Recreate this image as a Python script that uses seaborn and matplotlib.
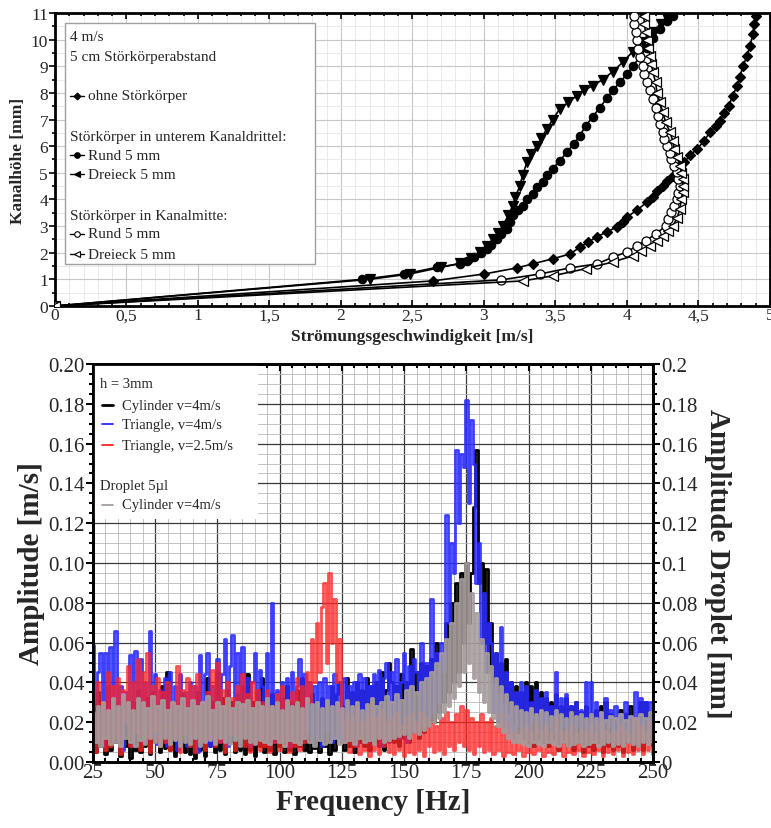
import numpy as np
import matplotlib
matplotlib.use("Agg")
import matplotlib.pyplot as plt
import seaborn as sns
from matplotlib.ticker import MultipleLocator, FuncFormatter
from matplotlib.patches import Rectangle
from matplotlib.lines import Line2D

# ---------------- top panel: velocity profiles ----------------
ohne_v = [0, 2.64, 3.0, 3.23, 3.34, 3.48, 3.6, 3.67, 3.73, 3.79, 3.86, 3.93, 3.97, 4.0, 4.07, 4.14,
          4.18, 4.21, 4.25, 4.28, 4.32, 4.35, 4.37, 4.4, 4.44, 4.49, 4.54, 4.58, 4.62, 4.65, 4.68,
          4.71, 4.74, 4.77, 4.79, 4.81, 4.84, 4.86, 4.88, 4.89, 4.9]
ohne_h = [0, 0.94, 1.2, 1.43, 1.58, 1.77, 1.95, 2.2, 2.4, 2.6, 2.78, 2.97, 3.15, 3.34, 3.6, 3.9,
          4.1, 4.32, 4.5, 4.7, 4.87, 5.04, 5.2, 5.4, 5.65, 5.9, 6.2, 6.53, 6.75, 6.96, 7.25,
          7.5, 7.9, 8.27, 8.6, 9.0, 9.4, 9.77, 10.2, 10.6, 10.9]

rund_unten_v = [0, 2.15, 2.44, 2.67, 2.83, 2.88, 2.93, 2.98, 3.02, 3.05, 3.09, 3.12, 3.16, 3.18, 3.2,
                3.24, 3.27, 3.3, 3.34, 3.37, 3.41, 3.44, 3.48, 3.53, 3.58, 3.63, 3.67, 3.71, 3.76,
                3.81, 3.86, 3.9, 3.95, 4.0, 4.04, 4.09, 4.14, 4.18, 4.23, 4.28, 4.32]
rund_unten_h = [0, 1.0, 1.2, 1.45, 1.58, 1.7, 1.83, 1.98, 2.14, 2.3, 2.52, 2.7, 2.9, 3.15, 3.4,
                3.6, 3.76, 4.0, 4.2, 4.45, 4.65, 4.9, 5.15, 5.45, 5.78, 6.1, 6.4, 6.75, 7.1,
                7.45, 7.8, 8.1, 8.4, 8.7, 9.0, 9.35, 9.7, 10.05, 10.4, 10.7, 10.9]

dreieck_unten_v = [0, 2.2, 2.48, 2.7, 2.83, 2.91, 2.97, 3.02, 3.06, 3.1, 3.13, 3.17, 3.2, 3.22, 3.25,
                   3.27, 3.3, 3.33, 3.37, 3.4, 3.44, 3.48, 3.53, 3.59, 3.65, 3.7, 3.76, 3.83, 3.9,
                   3.97, 4.04, 4.11, 4.18, 4.24, 4.28]
dreieck_unten_h = [0, 1.0, 1.2, 1.45, 1.6, 1.8, 2.03, 2.25, 2.5, 2.75, 3.0, 3.4, 3.76, 4.1, 4.5,
                   4.9, 5.4, 5.7, 6.0, 6.3, 6.65, 7.0, 7.4, 7.65, 7.9, 8.1, 8.27, 8.5, 8.8,
                   9.15, 9.55, 9.9, 10.3, 10.6, 10.8]

rund_mitte_v = [0, 3.12, 3.39, 3.6, 3.79, 3.9, 4.0, 4.07, 4.13, 4.2, 4.27, 4.29, 4.31, 4.33, 4.35,
                4.36, 4.37, 4.36, 4.35, 4.33, 4.31, 4.3, 4.28, 4.26, 4.25, 4.23, 4.22, 4.2, 4.18,
                4.16, 4.14, 4.12, 4.11, 4.09, 4.08, 4.07, 4.06, 4.05, 4.05]
rund_mitte_h = [0, 0.98, 1.2, 1.43, 1.58, 1.83, 2.03, 2.26, 2.45, 2.7, 3.0, 3.25, 3.52, 3.75, 4.0,
                4.25, 4.5, 4.77, 5.03, 5.27, 5.52, 5.75, 6.0, 6.27, 6.53, 6.85, 7.14, 7.45, 7.78,
                8.1, 8.4, 8.7, 9.0, 9.33, 9.66, 10.0, 10.3, 10.6, 10.9]

dreieck_mitte_v = [0, 3.27, 3.48, 3.71, 3.9, 4.04, 4.1, 4.16, 4.21, 4.25, 4.29, 4.32, 4.35, 4.37,
                   4.38, 4.39, 4.39, 4.39, 4.38, 4.37, 4.35, 4.33, 4.32, 4.3, 4.27, 4.25, 4.23,
                   4.21, 4.2, 4.18, 4.17, 4.16, 4.15, 4.14, 4.13, 4.12, 4.12]
dreieck_mitte_h = [0, 0.94, 1.13, 1.4, 1.65, 1.88, 2.07, 2.26, 2.45, 2.63, 2.8, 3.0, 3.3, 3.65,
                   4.0, 4.28, 4.5, 4.77, 5.0, 5.27, 5.6, 5.9, 6.2, 6.53, 6.9, 7.28, 7.65,
                   8.0, 8.4, 8.8, 9.1, 9.4, 9.7, 10.0, 10.3, 10.6, 10.9]

# ---------------- bottom panel: spectra (values in 1e-3 units, 1 Hz steps from 25 Hz) ----------------
f_start, f_end = 25, 250

cyl_4 = [30, 5, 35, 8, 25, 4, 38, 6, 30, 10,
         28, 3, 32, 8, 25, 2, 30, 6, 36, 5,
         28, 8, 32, 4, 35, 10, 26, 5, 38, 7,
         45, 6, 30, 3, 28, 8, 34, 5, 25, 4,
         30, 2, 35, 6, 28, 3, 42, 8, 30, 5,
         45, 6, 32, 4, 36, 10, 30, 5, 34, 6,
         38, 4, 44, 6, 30, 3, 36, 8, 42, 5,
         30, 6, 34, 4, 28, 8, 32, 5, 38, 6,
         30, 4, 36, 8, 42, 6, 30, 5, 34, 7,
         28, 5, 32, 8, 30, 4, 38, 6, 34, 40,
         28, 6, 42, 8, 35, 5, 40, 10, 36, 8,
         42, 6, 38, 10, 40, 8, 45, 6, 36, 50,
         40, 10, 38, 8, 44, 12, 40, 10, 57, 15,
         45, 12, 50, 15, 48, 18, 52, 20, 60, 25,
         55, 30, 70, 35, 80, 40, 90, 45, 95, 60,
         100, 70, 95, 128, 157, 90, 100, 60, 97, 45,
         70, 40, 55, 35, 50, 30, 52, 25, 40, 20,
         38, 15, 35, 12, 40, 10, 38, 8, 40, 12,
         35, 10, 32, 8, 30, 12, 34, 6, 28, 10,
         32, 8, 28, 6, 30, 10, 25, 5, 28, 8,
         24, 6, 26, 10, 28, 5, 30, 8, 24, 6,
         22, 8, 26, 5, 24, 10, 28, 6, 22, 8,
         30, 6, 30, 10, 25, 8]

tri_4 = [59, 10, 45, 55, 8, 55, 12, 58, 15, 66,
         12, 38, 6, 35, 20, 54, 8, 56, 15, 52,
         10, 40, 18, 66, 12, 44, 9, 36, 15, 42,
         8, 45, 20, 38, 6, 44, 14, 35, 8, 40,
         12, 38, 5, 54, 10, 44, 55, 8, 38, 15,
         52, 10, 44, 62, 8, 48, 64, 12, 55, 10,
         58, 20, 42, 8, 40, 55, 12, 46, 38, 10,
         55, 15, 80, 10, 36, 12, 40, 15, 42, 8,
         45, 12, 38, 52, 10, 44, 15, 40, 10, 38,
         12, 40, 8, 42, 15, 38, 10, 44, 12, 40,
         10, 42, 15, 38, 12, 40, 8, 44, 14, 42,
         10, 38, 15, 44, 12, 46, 8, 42, 50, 10,
         45, 15, 52, 12, 40, 55, 10, 48, 15, 52,
         45, 20, 60, 18, 50, 22, 82, 25, 55, 30,
         60, 45, 124, 70, 110, 95, 157, 120, 155, 148,
         182, 130, 172, 150, 90, 110, 60, 85, 45, 70,
         60, 25, 55, 20, 68, 18, 45, 15, 40, 12,
         35, 18, 40, 15, 38, 12, 30, 20, 36, 15,
         32, 12, 35, 18, 28, 15, 45, 12, 32, 18,
         34, 15, 28, 12, 30, 18, 26, 10, 40, 15,
         40, 12, 30, 15, 25, 12, 32, 18, 26, 10,
         28, 15, 24, 12, 30, 10, 22, 15, 35, 12,
         32, 15, 30, 10, 30, 18]

tri_25 = [35, 5, 40, 10, 30, 6, 45, 8, 38, 12,
          42, 4, 36, 20, 48, 8, 40, 15, 52, 6,
          45, 12, 55, 5, 38, 15, 42, 8, 35, 10,
          40, 6, 30, 12, 48, 5, 36, 14, 42, 8,
          38, 5, 44, 10, 30, 6, 35, 12, 46, 8,
          50, 10, 36, 5, 40, 14, 32, 6, 38, 12,
          44, 8, 34, 5, 40, 10, 36, 6, 30, 8,
          36, 5, 28, 10, 34, 6, 38, 8, 30, 5,
          35, 8, 42, 6, 38, 10, 45, 30, 62, 40,
          70, 45, 78, 90, 50, 95, 60, 82, 40, 62,
          20, 10, 25, 5, 22, 8, 28, 4, 20, 6,
          24, 3, 30, 6, 22, 4, 26, 8, 20, 5,
          22, 4, 25, 6, 18, 3, 22, 5, 24, 4,
          20, 6, 25, 3, 22, 8, 20, 5, 18, 6,
          22, 4, 25, 8, 20, 6, 24, 10, 28, 8,
          26, 6, 22, 4, 20, 8, 24, 5, 20, 6,
          22, 4, 18, 6, 24, 3, 20, 5, 16, 4,
          14, 6, 16, 3, 18, 5, 15, 4, 20, 6,
          16, 3, 18, 5, 14, 4, 22, 6, 16, 3,
          15, 5, 18, 4, 14, 6, 16, 3, 15, 5,
          18, 4, 14, 6, 20, 3, 16, 5, 14, 4,
          15, 6, 18, 3, 16, 5, 14, 4, 22, 6,
          18, 4, 15, 6, 20, 4]

droplet = [25, 10, 28, 8, 30, 12, 26, 9, 32, 10,
           28, 8, 34, 12, 30, 10, 26, 8, 32, 11,
           30, 9, 27, 12, 33, 10, 28, 8, 31, 12,
           26, 9, 30, 11, 28, 8, 32, 10, 27, 9,
           31, 12, 28, 8, 30, 10, 33, 11, 26, 9,
           30, 12, 28, 10, 32, 9, 27, 11, 30, 8,
           29, 12, 31, 10, 27, 9, 30, 11, 28, 10,
           32, 9, 28, 12, 30, 10, 26, 8, 31, 11,
           28, 10, 30, 9, 27, 12, 32, 10, 29, 8,
           30, 11, 27, 9, 31, 10, 28, 12, 30, 9,
           27, 10, 31, 11, 28, 9, 30, 12, 26, 10,
           29, 11, 32, 9, 28, 12, 30, 10, 33, 11,
           30, 12, 34, 13, 31, 14, 36, 12, 38, 15,
           35, 14, 40, 16, 42, 18, 45, 20, 50, 22,
           55, 25, 62, 28, 70, 32, 80, 38, 92, 45,
           100, 50, 85, 42, 75, 35, 62, 30, 55, 25,
           48, 22, 42, 18, 38, 15, 34, 12, 30, 10,
           28, 10, 26, 9, 25, 8, 27, 10, 24, 9,
           26, 8, 25, 10, 23, 9, 26, 8, 24, 10,
           22, 8, 25, 9, 23, 10, 24, 8, 22, 9,
           24, 10, 22, 8, 25, 9, 21, 10, 23, 8,
           22, 9, 24, 8, 21, 10, 23, 9, 22, 8,
           24, 10, 22, 9, 25, 10]

freq = np.arange(f_start, f_end + 1)

# ---------------- style ----------------
sns.set_style("whitegrid")
plt.rcParams['font.family'] = ['Liberation Serif', 'DejaVu Serif']

fig = plt.figure(figsize=(7.71, 8.29), dpi=100)
ax1 = fig.add_axes([0.0713, 0.6297, 0.9274, 0.3534])
ax2 = fig.add_axes([0.1206, 0.0796, 0.7264, 0.4801])

# ---- top panel ----
profiles = [
    (ohne_v, ohne_h, 'D', 'black', 5),
    (rund_unten_v, rund_unten_h, 'o', 'black', 6),
    (dreieck_unten_v, dreieck_unten_h, 'v', 'black', 6.5),
    (rund_mitte_v, rund_mitte_h, 'o', 'white', 6.5),
    (dreieck_mitte_v, dreieck_mitte_h, '<', 'white', 6.5),
]
for v, h, m, fc, ms in profiles:
    sns.lineplot(x=v, y=h, ax=ax1, sort=False, estimator=None, color='black', lw=1.2,
                 marker=m, markersize=ms, markerfacecolor=fc, markeredgecolor='black',
                 markeredgewidth=0.9, zorder=5)

ax1.set_xlim(0, 5)
ax1.set_ylim(0, 11)
ax1.xaxis.set_major_locator(MultipleLocator(0.5))
ax1.xaxis.set_minor_locator(MultipleLocator(0.1))
ax1.yaxis.set_major_locator(MultipleLocator(1))
ax1.yaxis.set_minor_locator(MultipleLocator(0.5))
ax1.xaxis.set_major_formatter(FuncFormatter(lambda x, p: f"{x:g}".replace('.', ',')))
ax1.grid(which='major', color='#c8c8c8', lw=0.8)
ax1.grid(which='minor', color='#e6e6e6', lw=0.6)
ax1.tick_params(which='both', direction='out', top=True, left=True, bottom=True,
                labelsize=12.5, width=1.2, color='black', pad=1)
ax1.tick_params(which='major', length=4)
ax1.tick_params(which='minor', length=2)
ax1.tick_params(axis='x', which='both', top=True, direction='in')
for s in ax1.spines.values():
    s.set_color('black')
    s.set_linewidth(2)
ax1.set_xlabel('Strömungsgeschwindigkeit [m/s]', fontsize=12.5, fontweight='bold', labelpad=3)
ax1.set_ylabel('Kanalhöhe [mm]', fontsize=12.5, fontweight='bold', labelpad=3)

# legend box (top)
ax1.add_patch(Rectangle((0.014, 0.143), 0.35, 0.823, transform=ax1.transAxes,
                        facecolor='white', edgecolor='#a0a0a0', lw=1.0, zorder=6))
top_font = 11
hx = 0.021
tx = 0.046
ax1.text(hx, 0.921, '4 m/s', transform=ax1.transAxes, fontsize=top_font, va='center', zorder=7)
ax1.text(hx, 0.853, '5 cm Störkörperabstand', transform=ax1.transAxes, fontsize=top_font,
         va='center', zorder=7)
ax1.text(hx, 0.58, 'Störkörper in unterem Kanaldrittel:', transform=ax1.transAxes,
         fontsize=top_font, va='center', zorder=7)
ax1.text(hx, 0.31, 'Störkörper in Kanalmitte:', transform=ax1.transAxes,
         fontsize=top_font, va='center', zorder=7)
top_items = [
    (0.717, 'ohne Störkörper', 'D', 'black', 3.5),
    (0.515, 'Rund 5 mm', 'o', 'black', 4),
    (0.45, 'Dreieck 5 mm', '<', 'black', 4),
    (0.246, 'Rund 5 mm', 'o', 'white', 4),
    (0.177, 'Dreieck 5 mm', '<', 'white', 4),
]
for yy, lab, m, fc, ms in top_items:
    ax1.add_line(Line2D([hx, tx - 0.006], [yy, yy], transform=ax1.transAxes, color='black',
                        lw=1.0, zorder=7))
    ax1.add_line(Line2D([(hx + tx - 0.006) / 2], [yy], transform=ax1.transAxes, color='black',
                        lw=0, marker=m, markersize=ms, markerfacecolor=fc,
                        markeredgecolor='black', markeredgewidth=0.8, zorder=8))
    ax1.text(tx, yy, lab, transform=ax1.transAxes, fontsize=top_font, va='center', zorder=7)

# ---- bottom panel ----
series = [
    (cyl_4, 'black', 1.0),
    (tri_4, '#2a2aff', 0.9),
    (tri_25, '#ff2424', 0.8),
]
for vals, col, a in series:
    sns.lineplot(x=freq, y=np.array(vals) / 1000.0, ax=ax2, sort=False, estimator=None,
                 color=col, lw=2.0, alpha=a, drawstyle='steps-mid', zorder=3)

ax2.set_xlim(25, 250)
ax2.set_ylim(0, 0.2)
ax2.xaxis.set_major_locator(MultipleLocator(25))
ax2.xaxis.set_minor_locator(MultipleLocator(5))
ax2.yaxis.set_major_locator(MultipleLocator(0.02))
ax2.yaxis.set_minor_locator(MultipleLocator(0.005))
ax2.yaxis.set_major_formatter(FuncFormatter(lambda v, p: f"{v:.2f}"))
ax2.grid(which='major', color='#3a3a3a', lw=0.9)
ax2.grid(which='minor', color='#b8b8b8', lw=0.6)
ax2.tick_params(which='both', direction='out', labelsize=15, width=1.5, color='black', pad=1)
ax2.tick_params(which='major', length=5)
ax2.tick_params(which='minor', length=3, left=True, bottom=True, top=True)
ax2.tick_params(axis='x', which='both', top=True, direction='in')
for s in ax2.spines.values():
    s.set_color('black')
    s.set_linewidth(2)
ax2.set_xlabel('Frequency [Hz]', fontsize=21, fontweight='bold', labelpad=4)
ax2.set_ylabel('Amplitude [m/s]', fontsize=21, fontweight='bold', labelpad=2)

ax3 = ax2.twinx()
sns.lineplot(x=freq, y=np.array(droplet) / 1000.0, ax=ax3, sort=False, estimator=None,
             color='#a69c9c', lw=2.0, alpha=0.95, drawstyle='steps-mid')
ax3.set_ylim(0, 0.2)
ax3.grid(False)
ax3.yaxis.set_major_locator(MultipleLocator(0.02))
ax3.yaxis.set_minor_locator(MultipleLocator(0.005))
ax3.yaxis.set_major_formatter(FuncFormatter(lambda v, p: f"{v:g}"))
ax3.tick_params(which='both', direction='out', labelsize=15, width=1.5, color='black', pad=1)
ax3.tick_params(which='major', length=5)
ax3.tick_params(which='minor', length=3, right=True)
for s in ax3.spines.values():
    s.set_color('black')
    s.set_linewidth(2)
ax3.set_ylabel('Amplitude Droplet [mm]', fontsize=21, fontweight='bold', rotation=270,
               labelpad=24)

# legend box (bottom)
ax2.add_patch(Rectangle((0.0, 0.61), 0.295, 0.39, transform=ax2.transAxes,
                        facecolor='white', edgecolor='none', zorder=6))
bot_font = 10.5
ax2.text(0.0125, 0.95, 'h = 3mm', transform=ax2.transAxes, fontsize=bot_font, va='center', zorder=7)
ax2.text(0.0125, 0.696, 'Droplet 5µl', transform=ax2.transAxes, fontsize=bot_font,
         va='center', zorder=7)
bot_items = [
    (0.897, 'Cylinder v=4m/s', 'black', 2.0),
    (0.849, 'Triangle, v=4m/s', '#2a2aff', 1.3),
    (0.796, 'Triangle, v=2.5m/s', '#ff2424', 1.3),
    (0.646, 'Cylinder v=4m/s', '#a69c9c', 1.3),
]
for yy, lab, col, lw in bot_items:
    ax2.add_line(Line2D([0.016, 0.036], [yy, yy], transform=ax2.transAxes, color=col,
                        lw=lw, zorder=7))
    ax2.text(0.052, yy, lab, transform=ax2.transAxes, fontsize=bot_font, va='center', zorder=7)

plt.savefig('out.png', dpi=100)
